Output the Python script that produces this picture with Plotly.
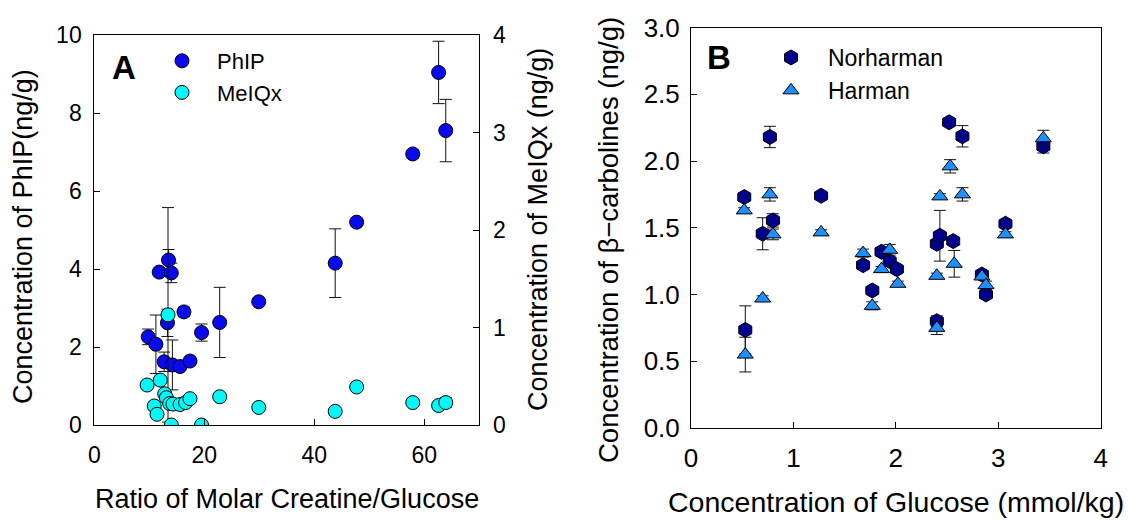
import plotly.graph_objects as go

# ---------------- Panel A data ----------------
phip_x = [9.8, 11.2, 11.8, 12.7, 13.3, 13.5, 14.0, 14.2, 15.6, 16.3, 17.4, 19.5, 22.8, 29.9, 43.8, 47.7, 57.9, 62.6, 63.9]
phip_y = [2.26, 2.07, 3.92, 1.62, 2.62, 4.23, 3.90, 1.54, 1.50, 2.90, 1.64, 2.37, 2.63, 3.16, 4.15, 5.20, 6.95, 9.04, 7.55]
phip_err = [0.20, 0.75, 0.0, 0.25, 0.35, 0.27, 0.25, 0.64, 0.0, 0.12, 0.0, 0.22, 0.90, 0.0, 0.88, 0.05, 0.10, 0.80, 0.80]

meiqx_x = [9.6, 10.9, 11.4, 12.0, 12.8, 13.1, 13.4, 13.7, 14.0, 14.3, 15.6, 16.6, 17.4, 19.5, 22.8, 29.9, 43.8, 47.7, 57.9, 62.6, 63.9]
meiqx_y = [0.41, 0.195, 0.11, 0.46, 0.32, 0.28, 1.13, 0.22, 0.0, 0.215, 0.21, 0.23, 0.27, 0.0, 0.29, 0.18, 0.14, 0.39, 0.23, 0.20, 0.23]
meiqx_err = [0.0, 0.0, 0.0, 0.0, 0.0, 0.0, 1.10, 0.0, 0.0, 0.0, 0.0, 0.0, 0.0, 0.0, 0.0, 0.0, 0.03, 0.0, 0.0, 0.0, 0.05]

# ---------------- Panel B data ----------------
norh_x = [0.52, 0.53, 0.70, 0.77, 0.80, 1.27, 1.68, 1.77, 1.86, 1.94, 2.01, 2.40, 2.43, 2.40, 2.52, 2.56, 2.65, 2.84, 2.88, 3.07, 3.44]
norh_y = [1.73, 0.735, 1.455, 2.18, 1.555, 1.74, 1.22, 1.03, 1.32, 1.25, 1.19, 1.38, 1.44, 0.80, 2.29, 1.40, 2.185, 1.15, 1.00, 1.53, 2.11]
norh_err = [0.03, 0.18, 0.12, 0.08, 0.05, 0.02, 0.02, 0.02, 0.03, 0.02, 0.02, 0.03, 0.19, 0.04, 0.02, 0.02, 0.08, 0.02, 0.03, 0.02, 0.05]

harm_x = [0.52, 0.53, 0.70, 0.77, 0.80, 1.27, 1.68, 1.77, 1.86, 1.94, 2.02, 2.40, 2.43, 2.40, 2.53, 2.57, 2.65, 2.84, 2.88, 3.07, 3.44]
harm_y = [1.63, 0.55, 0.97, 1.75, 1.45, 1.465, 1.31, 0.915, 1.19, 1.335, 1.08, 1.14, 1.735, 0.75, 1.96, 1.23, 1.75, 1.135, 1.07, 1.45, 2.17]
harm_err = [0.02, 0.13, 0.02, 0.05, 0.04, 0.02, 0.03, 0.03, 0.02, 0.04, 0.02, 0.02, 0.02, 0.05, 0.05, 0.10, 0.05, 0.02, 0.03, 0.02, 0.06]

A_xticks = [0, 20, 40, 60]
A_yticks = [0, 2, 4, 6, 8, 10]
A_y2ticks = [0, 1, 2, 3, 4]
B_xticks = [0, 1, 2, 3, 4]
B_yticks = [0.0, 0.5, 1.0, 1.5, 2.0, 2.5, 3.0]

FONT = "Liberation Sans, Arial, sans-serif"
W, H = 1128, 520


def err(vals, w):
    return dict(type="data", array=vals, visible=True, color="#111111", thickness=1, width=w)


fig = go.Figure()

fig.add_trace(go.Scatter(x=phip_x, y=phip_y, mode="markers", name="PhIP",
                         marker=dict(symbol="circle", size=14, color="#0A0AEE", line=dict(color="black", width=1)),
                         error_y=err(phip_err, 6), xaxis="x", yaxis="y", legend="legend"))
fig.add_trace(go.Scatter(x=meiqx_x, y=meiqx_y, mode="markers", name="MeIQx",
                         marker=dict(symbol="circle", size=14, color="#00F8F8", line=dict(color="black", width=1)),
                         error_y=err(meiqx_err, 6), xaxis="x", yaxis="y2", legend="legend"))
fig.add_trace(go.Scatter(x=norh_x, y=norh_y, mode="markers", name="Norharman",
                         marker=dict(symbol="hexagon", size=15, color="#00008B", line=dict(color="black", width=1)),
                         error_y=err(norh_err, 6), xaxis="x2", yaxis="y3", legend="legend2"))
fig.add_trace(go.Scatter(x=harm_x, y=harm_y, mode="markers", name="Harman",
                         marker=dict(symbol="triangle-up", size=14, color="#1E8FFF", line=dict(color="black", width=1)),
                         error_y=err(harm_err, 6), xaxis="x2", yaxis="y3", legend="legend2"))

A_tick = dict(family=FONT, size=23, color="black")
B_tick = dict(family=FONT, size=26, color="black")
ax_common = dict(showline=True, linecolor="black", linewidth=1, ticks="inside", ticklen=6,
                 tickcolor="black", showgrid=False, zeroline=False, automargin=False)

A_dom_x = [94.3 / W, 479.3 / W]
A_dom_y = [(H - 425) / H, (H - 35) / H]
B_dom_x = [691 / W, 1100.7 / W]
B_dom_y = [(H - 428) / H, (H - 27.5) / H]

fig.update_layout(
    width=W, height=H,
    margin=dict(l=0, r=0, t=0, b=0),
    paper_bgcolor="white", plot_bgcolor="white",
    font=dict(family=FONT, color="black"),
    xaxis=dict(ax_common, domain=A_dom_x, range=[0, 70], tickvals=A_xticks, mirror=True,
               anchor="y", ticklabelstandoff=9, tickfont=A_tick),
    yaxis=dict(ax_common, domain=A_dom_y, range=[0, 10], tickvals=A_yticks, anchor="x",
               ticklabelstandoff=7, tickfont=A_tick),
    yaxis2=dict(ax_common, domain=A_dom_y, range=[0, 4], tickvals=A_y2ticks, anchor="x",
                overlaying="y", side="right", ticklabelstandoff=8, tickfont=A_tick),
    xaxis2=dict(ax_common, domain=B_dom_x, range=[0, 4], tickvals=B_xticks, mirror=True,
                anchor="y3", ticklabelstandoff=7, tickfont=B_tick),
    yaxis3=dict(ax_common, domain=B_dom_y, range=[0, 3], tickvals=B_yticks, tickformat=".1f",
                mirror=True, anchor="x2", ticklabelstandoff=5, tickfont=B_tick),
    legend=dict(x=147 / W, y=(H - 40) / H, xanchor="left", yanchor="top", bgcolor="rgba(0,0,0,0)",
                font=dict(family=FONT, size=22, color="black"), tracegroupgap=0, itemclick=False,
                itemwidth=60),
    legend2=dict(x=754 / W, y=(H - 36) / H, xanchor="left", yanchor="top", bgcolor="rgba(0,0,0,0)",
                 font=dict(family=FONT, size=23, color="black"), tracegroupgap=0, itemclick=False,
                 itemwidth=64),
    showlegend=True,
)

annots = [
    dict(text="Ratio of Molar Creatine/Glucose", x=287 / W, y=(H - 499) / H, textangle=0, size=27),
    dict(text="Concentration of PhIP(ng/g)", x=23 / W, y=(H - 237) / H, textangle=-90, size=27),
    dict(text="Concentration of MeIQx (ng/g)", x=538 / W, y=(H - 230) / H, textangle=-90, size=27),
    dict(text="Concentration of Glucose (mmol/kg)", x=896 / W, y=(H - 502) / H, textangle=0, size=28.5),
    dict(text="Concentration of β\u2212carbolines (ng/g)", x=608 / W, y=(H - 240) / H, textangle=-90, size=27.5),
]
for a in annots:
    size = a.pop("size")
    fig.add_annotation(xref="paper", yref="paper", showarrow=False, xanchor="center", yanchor="middle",
                       font=dict(family=FONT, size=size, color="black"), **a)

fig.add_annotation(text="<b>A</b>", xref="paper", yref="paper", x=124 / W, y=(H - 68) / H,
                   showarrow=False, xanchor="center", yanchor="middle",
                   font=dict(family=FONT, size=33, color="black"))
fig.add_annotation(text="<b>B</b>", xref="paper", yref="paper", x=719 / W, y=(H - 57) / H,
                   showarrow=False, xanchor="center", yanchor="middle",
                   font=dict(family=FONT, size=33, color="black"))

fig.write_html("out.html", config={"displayModeBar": False},
               post_script="document.body.style.margin='0px';")
